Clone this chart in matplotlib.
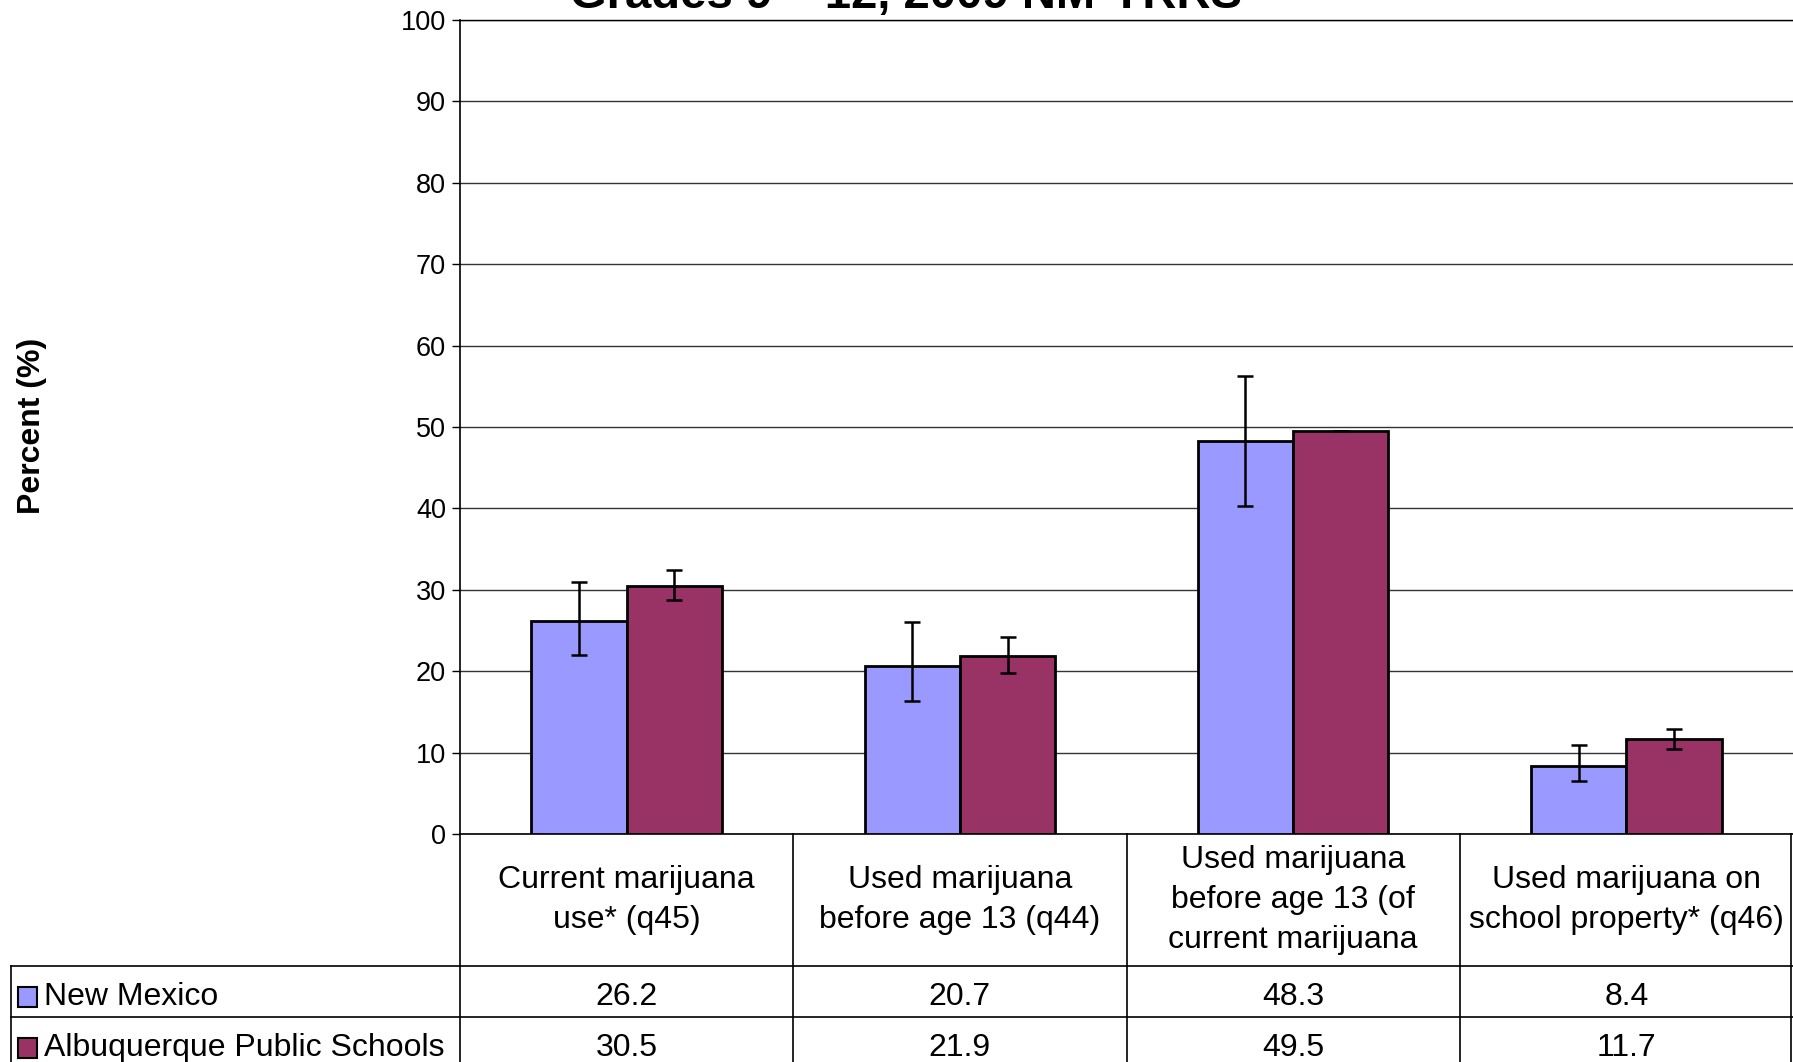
import numpy as np
import matplotlib
matplotlib.use("Agg")
import matplotlib.pyplot as plt
import matplotlib.transforms as mtransforms
from matplotlib.patches import Rectangle

plt.rcParams['font.family'] = ['Liberation Sans', 'DejaVu Sans']

categories = ["Current marijuana\nuse* (q45)",
              "Used marijuana\nbefore age 13 (q44)",
              "Used marijuana\nbefore age 13 (of\ncurrent marijuana",
              "Used marijuana on\nschool property* (q46)"]
series = ["New Mexico", "Albuquerque Public Schools"]
nm = [26.2, 20.7, 48.3, 8.4]
aps = [30.5, 21.9, 49.5, 11.7]
# confidence limits
nm_lo = [22.0, 16.3, 40.3, 6.5]
nm_hi = [30.9, 26.0, 56.3, 10.9]
aps_lo = [28.7, 19.8, 49.5, 10.5]
aps_hi = [32.4, 24.2, 49.5, 12.9]
colors = ["#9999FF", "#993366"]
title = "Grades 9 \u2013 12, 2009 NM-YRRS"

W, H = 1793, 1062
fig = plt.figure(figsize=(W / 100, H / 100), dpi=100)
ax = fig.add_axes([460 / W, 1 - 834 / H, 1333 / W, 814 / H])

x = np.arange(len(categories))
bw = 0.286
vals = [nm, aps]
los = [nm_lo, aps_lo]
his = [nm_hi, aps_hi]
for k in range(2):
    pos = x + (k - 0.5) * bw
    v = np.array(vals[k])
    ax.bar(pos, v, width=bw, color=colors[k], edgecolor="black", linewidth=2, zorder=3)
    err = [v - np.array(los[k]), np.array(his[k]) - v]
    ax.errorbar(pos, v, yerr=err, fmt="none", ecolor="black", elinewidth=1.8,
                capsize=5.5, capthick=1.8, zorder=4)

ax.set_xlim(-0.5, len(categories) - 0.5)
ax.set_ylim(0, 100)
ax.set_yticks(np.arange(0, 101, 10))
ax.tick_params(axis="y", labelsize=19.5, length=6, width=1, direction="out", pad=4)
ax.set_xticks([])
ax.yaxis.grid(True, color="#333333", linewidth=1)
ax.set_axisbelow(True)
ax.spines["right"].set_visible(False)
ax.spines["top"].set_linewidth(1)
ax.spines["left"].set_linewidth(1.2)
ax.spines["bottom"].set_linewidth(1.2)

fig.text(32 / W, 1 - 426 / H, "Percent (%)", rotation=90, fontsize=23,
         fontweight="bold", ha="center", va="center")
fig.text(906 / W, 1 - 8 / H, title, fontsize=34, fontweight="bold",
         ha="center", va="baseline")

# data table under the chart
blend = mtransforms.blended_transform_factory(ax.transData, ax.transAxes)
ta = ax.transAxes
row1 = (834 - 966) / 814
row2 = (834 - 1017) / 814
bottom = (834 - 1075) / 814
left = (11 - 460) / 1333
lk = dict(color="black", linewidth=1.2, clip_on=False)
ax.plot([0, 0], [0, bottom], transform=ta, **lk)
ax.plot([0.9985, 0.9985], [0, bottom], transform=ta, **lk)
for b in x[:-1] + 0.5:
    ax.plot([b, b], [0, bottom], transform=blend, **lk)
ax.plot([left, left], [row1, bottom], transform=ta, **lk)
for r in [row1, row2]:
    ax.plot([left, 1], [r, r], transform=ta, **lk)

for i, c in enumerate(categories):
    ax.text(x[i], row1 / 2, c, transform=blend, ha="center", va="center",
            fontsize=23, linespacing=1.45, clip_on=False)
row_y = [(834 - 997) / 814, (834 - 1048) / 814]
for k in range(2):
    for i in range(len(categories)):
        ax.text(x[i], row_y[k], f"{vals[k][i]:.1f}", transform=blend, ha="center",
                va="center", fontsize=23, clip_on=False)
    ax.add_patch(Rectangle(((18 - 460) / 1333, row_y[k] - 10 / 814), 19 / 1333, 20 / 814,
                           transform=ta, facecolor=colors[k], edgecolor="black",
                           linewidth=1.5, clip_on=False))
    ax.text((44 - 460) / 1333, row_y[k], series[k], transform=ta, ha="left",
            va="center", fontsize=23, clip_on=False)

fig.savefig("out.png", dpi=100)
